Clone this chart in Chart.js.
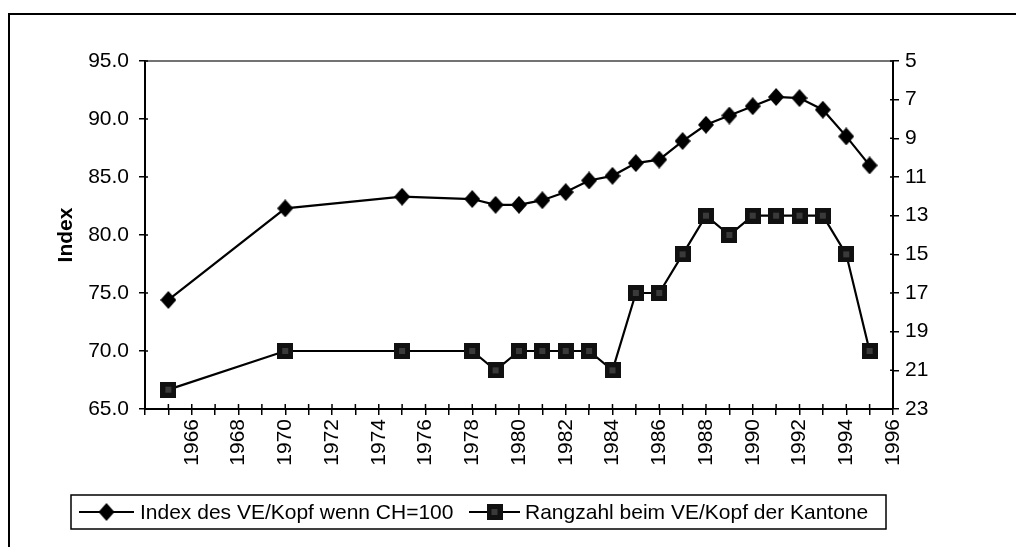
<!DOCTYPE html>
<html>
<head>
<meta charset="utf-8">
<script src="https://cdn.jsdelivr.net/npm/chart.js@4.4.1/dist/chart.umd.min.js"></script>
<style>
  html, body { margin: 0; padding: 0; background: #fff; }
  #wrap { width: 1016px; height: 547px; position: relative; }
</style>
</head>
<body>
<div id="wrap"><canvas id="chart" width="1016" height="547"></canvas></div>
<script>
const years = [1965, 1970, 1975, 1978, 1979, 1980, 1981, 1982, 1983, 1984, 1985, 1986, 1987, 1988, 1989, 1990, 1991, 1992, 1993, 1994, 1995];
const indexValues = [74.4, 82.3, 83.3, 83.1, 82.6, 82.6, 83.0, 83.7, 84.7, 85.1, 86.2, 86.5, 88.1, 89.5, 90.3, 91.1, 91.9, 91.8, 90.8, 88.5, 86.0];
const rankValues = [22, 20, 20, 20, 21, 20, 20, 20, 20, 21, 17, 17, 15, 13, 14, 13, 13, 13, 13, 15, 20];
const seriesNames = ['Index des VE/Kopf wenn CH=100', 'Rangzahl beim VE/Kopf der Kantone'];
const axisTitle = 'Index';

const FONT = '"Liberation Sans", Arial, sans-serif';

// marker images
function diamond() {
    const c = document.createElement('canvas');
    c.width = 16; c.height = 18;
    const g = c.getContext('2d');
    g.fillStyle = '#000';
    g.beginPath();
    g.moveTo(8, 0); g.lineTo(16, 9); g.lineTo(8, 18); g.lineTo(0, 9);
    g.closePath(); g.fill();
    return c;
}
function square() {
    const c = document.createElement('canvas');
    c.width = 16; c.height = 16;
    const g = c.getContext('2d');
    g.fillStyle = '#111';
    g.fillRect(0, 0, 16, 16);
    g.fillStyle = '#3a3a3a';
    g.fillRect(5, 5, 6, 6);
    return c;
}
const diamondImg = diamond();
const squareImg = square();

const frame = {
    id: 'frame',
    beforeDraw(chart) {
        const ctx = chart.ctx;
        ctx.save();
        ctx.fillStyle = '#fff';
        ctx.fillRect(0, 0, chart.width, chart.height);
        ctx.strokeStyle = '#000';
        ctx.lineWidth = 2;
        ctx.beginPath();
        ctx.moveTo(9, chart.height); ctx.lineTo(9, 14); ctx.lineTo(chart.width, 14);
        ctx.stroke();
        ctx.restore();
    },
    afterDatasetsDraw(chart) {
        const ctx = chart.ctx, a = chart.chartArea;
        ctx.save();
        ctx.strokeStyle = '#444';
        ctx.lineWidth = 1.5;
        ctx.beginPath();
        ctx.moveTo(a.left, a.top); ctx.lineTo(a.right, a.top);
        ctx.stroke();
        // inside tick marks
        ctx.strokeStyle = '#000';
        ctx.lineWidth = 1.5;
        ctx.beginPath();
        chart.scales.x.ticks.forEach(t => {
            const px = chart.scales.x.getPixelForValue(t.value);
            ctx.moveTo(px, a.bottom); ctx.lineTo(px, a.bottom - 5);
        });
        chart.scales.y.ticks.forEach(t => {
            const py = chart.scales.y.getPixelForValue(t.value);
            ctx.moveTo(a.left, py); ctx.lineTo(a.left + 3, py);
        });
        chart.scales.y2.ticks.forEach(t => {
            const py = chart.scales.y2.getPixelForValue(t.value);
            ctx.moveTo(a.right, py); ctx.lineTo(a.right - 3, py);
        });
        ctx.stroke();

        // legend
        const L = 71, T = 495, R = 886, B = 529;
        ctx.fillStyle = '#fff';
        ctx.fillRect(L, T, R - L, B - T);
        ctx.strokeStyle = '#000';
        ctx.lineWidth = 1.5;
        ctx.strokeRect(L, T, R - L, B - T);
        const cy = (T + B) / 2;
        const items = [
            { x0: 79, x1: 134, img: diamondImg, tx: 140 },
            { x0: 469, x1: 520, img: squareImg, tx: 525 }
        ];
        ctx.font = '21px ' + FONT;
        ctx.textBaseline = 'middle';
        items.forEach((it, i) => {
            ctx.lineWidth = 2;
            ctx.beginPath();
            ctx.moveTo(it.x0, cy); ctx.lineTo(it.x1, cy);
            ctx.stroke();
            const mx = (it.x0 + it.x1) / 2;
            ctx.drawImage(it.img, mx - it.img.width / 2, cy - it.img.height / 2);
            ctx.fillStyle = '#000';
            ctx.fillText(seriesNames[i], it.tx, cy + 1);
        });
        ctx.restore();
    }
};

new Chart(document.getElementById('chart'), {
    type: 'line',
    data: {
        datasets: [{
            label: seriesNames[0],
            data: years.map((y, i) => ({ x: y, y: indexValues[i] })),
            borderColor: '#000',
            borderWidth: 2.2,
            pointStyle: diamondImg,
            yAxisID: 'y',
            tension: 0
        }, {
            label: seriesNames[1],
            data: years.map((y, i) => ({ x: y, y: rankValues[i] })),
            borderColor: '#000',
            borderWidth: 2.2,
            pointStyle: squareImg,
            yAxisID: 'y2',
            tension: 0
        }]
    },
    options: {
        responsive: false,
        animation: false,
        layout: { padding: { left: 54, top: 61, right: 0, bottom: 0 } },
        plugins: { legend: { display: false }, tooltip: { enabled: false } },
        scales: {
            x: {
                type: 'linear',
                min: 1964, max: 1996,
                afterFit: s => { s.height = 138; },
                border: { color: '#000', width: 2 },
                grid: { drawOnChartArea: false, color: '#000', lineWidth: 1.5, tickLength: 6 },
                ticks: {
                    stepSize: 1, autoSkip: false, maxRotation: 90, minRotation: 90,
                    color: '#000', font: { family: FONT, size: 21 }, padding: 4,
                    callback: v => (v % 2 === 0 && v >= 1966) ? String(v) : ''
                }
            },
            y: {
                position: 'left',
                min: 65, max: 95,
                afterFit: s => { s.width = 91; },
                border: { color: '#000', width: 2 },
                grid: { drawOnChartArea: false, color: '#000', lineWidth: 1.5, tickLength: 6 },
                title: { display: true, text: axisTitle, color: '#000', font: { family: FONT, size: 21, weight: 'bold' }, padding: 0 },
                ticks: { stepSize: 5, color: '#000', padding: 10, font: { family: FONT, size: 21 }, callback: v => v.toFixed(1) }
            },
            y2: {
                position: 'right',
                reverse: true,
                min: 5, max: 23,
                afterFit: s => { s.width = 123; },
                border: { color: '#000', width: 2 },
                grid: { drawOnChartArea: false, color: '#000', lineWidth: 1.5, tickLength: 6 },
                ticks: { stepSize: 2, color: '#000', padding: 6, font: { family: FONT, size: 21 } }
            }
        }
    },
    plugins: [frame]
});
</script>
</body>
</html>
